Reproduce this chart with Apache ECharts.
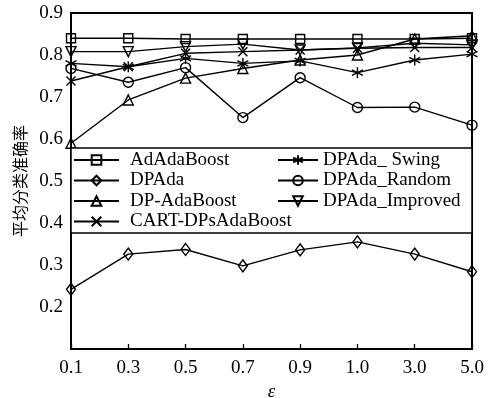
<!DOCTYPE html>
<html>
<head>
<meta charset="utf-8">
<script src="https://cdn.jsdelivr.net/npm/echarts@6/dist/echarts.min.js"></script>
<style>
  html, body { margin: 0; padding: 0; background: #fff; }
  #main { width: 490px; height: 398px; }
</style>
</head>
<body>
<div id="main"></div>
<script>
// eps values along the x axis
var categories = ['0.1', '0.3', '0.5', '0.7', '0.9', '1.0', '3.0', '5.0'];
var yTicks = [0.1, 0.2, 0.3, 0.4, 0.5, 0.6, 0.7, 0.8, 0.9];

var adaBoost = [0.840, 0.840, 0.838, 0.838, 0.838, 0.838, 0.838, 0.840];
var dpAda = [0.242, 0.326, 0.337, 0.298, 0.336, 0.355, 0.326, 0.284];
var dpAdaBoost = [0.590, 0.693, 0.745, 0.768, 0.788, 0.800, 0.838, 0.846];
var cart = [0.738, 0.772, 0.804, 0.808, 0.812, 0.816, 0.818, 0.818];
var swing = [0.780, 0.772, 0.792, 0.780, 0.786, 0.758, 0.788, 0.802];
var random = [0.768, 0.735, 0.770, 0.651, 0.746, 0.675, 0.676, 0.633];
var improved = [0.808, 0.808, 0.820, 0.826, 0.812, 0.817, 0.828, 0.824];

var names = ['AdAdaBoost', 'DPAda', 'DP-AdaBoost', 'CART-DPsAdaBoost',
             'DPAda_ Swing', 'DPAda_Random', 'DPAda_Improved'];

var starPath = 'path://M5 0L5 10M0.7 2.5L9.3 7.5M0.7 7.5L9.3 2.5';
var crossPath = 'path://M0 0L10 10M10 0L0 10';

var font = '"Liberation Serif", "Times New Roman", serif';

function mk(name, data, symbol, size, rotate) {
  return {
    name: name,
    type: 'line',
    data: data,
    symbol: symbol,
    symbolSize: size,
    symbolRotate: rotate || 0,
    showAllSymbol: true,
    lineStyle: { color: '#000', width: 1.4 },
    itemStyle: { color: 'rgba(255,255,255,0)', borderColor: '#000', borderWidth: 1.4 },
    emphasis: { disabled: true },
    z: 2
  };
}

var myChart = echarts.init(document.getElementById('main'));
var option = {
  animation: false,
  backgroundColor: '#fff',
  grid: {
    left: 71, right: 18, top: 13, bottom: 49,
    outerBoundsMode: 'none',
    containLabel: false,
    show: true, borderColor: '#000', borderWidth: 2
  },
  xAxis: {
    type: 'category',
    data: categories,
    boundaryGap: false,
    name: 'ε',
    nameLocation: 'middle',
    nameGap: 28,
    nameTextStyle: { fontFamily: font, fontStyle: 'italic', fontSize: 19, color: '#000' },
    axisLine: { lineStyle: { color: '#000', width: 2 } },
    axisTick: { inside: true, length: 5, lineStyle: { color: '#000', width: 1.3 } },
    axisLabel: { fontFamily: font, fontSize: 19, color: '#000', margin: 10 },
    splitLine: { show: false }
  },
  yAxis: {
    type: 'value',
    min: yTicks[0],
    max: yTicks[yTicks.length - 1],
    interval: 0.1,
    name: '平均分类准确率',
    nameLocation: 'middle',
    nameGap: 40,
    nameTextStyle: { fontFamily: '"Noto Sans CJK SC"', fontSize: 16, color: '#000' },
    axisLine: { lineStyle: { color: '#000', width: 2 } },
    axisTick: { inside: true, length: 5, lineStyle: { color: '#000', width: 1.3 } },
    axisLabel: {
      fontFamily: font, fontSize: 19, color: '#000', margin: 8,
      formatter: function (v) { return Math.abs(v - 0.1) < 1e-6 ? '' : v.toFixed(1); }
    },
    splitLine: { show: false }
  },
  graphic: [{
    type: 'rect',
    z: 3,
    shape: { x: 71, y: 148, width: 401, height: 85 },
    style: { fill: '#fff', stroke: '#000', lineWidth: 1.5 }
  }],
  legend: [{
    data: names.slice(0, 4),
    orient: 'vertical',
    left: 73, top: 150,
    padding: 0,
    itemWidth: 45, itemHeight: 12, itemGap: 0.5,
    selectedMode: false,
    textStyle: { fontFamily: font, fontSize: 19, color: '#000', lineHeight: 20, padding: [0, 0, 0, 6] },
    z: 4
  }, {
    data: names.slice(4),
    orient: 'vertical',
    left: 277, top: 150,
    padding: 0,
    itemWidth: 40, itemHeight: 12, itemGap: 0.5,
    selectedMode: false,
    textStyle: { fontFamily: font, fontSize: 19, color: '#000', lineHeight: 20 },
    z: 4
  }],
  series: [
    mk(names[0], adaBoost, 'rect', 9),
    mk(names[1], dpAda, 'diamond', [9, 12]),
    mk(names[2], dpAdaBoost, 'triangle', 10),
    mk(names[3], cart, crossPath, 9),
    mk(names[4], swing, starPath, 11),
    mk(names[5], random, 'circle', 10),
    mk(names[6], improved, 'triangle', 10, 180)
  ]
};
myChart.setOption(option);
</script>
</body>
</html>
